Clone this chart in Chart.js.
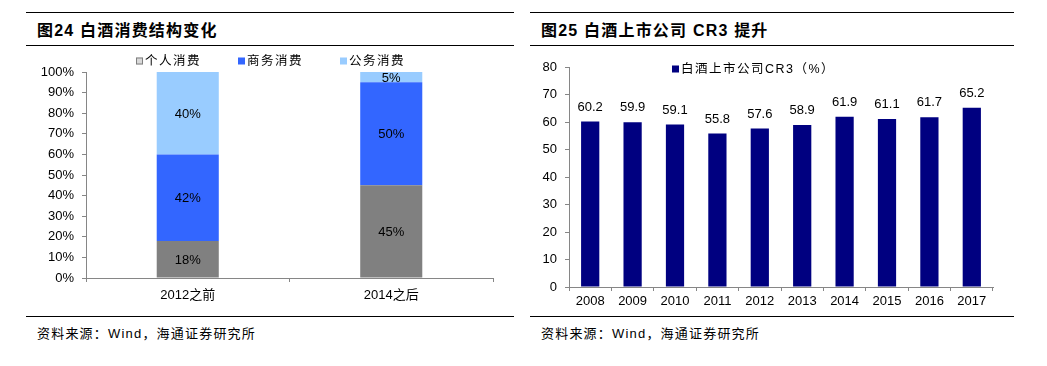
<!DOCTYPE html>
<html>
<head>
<meta charset="utf-8">
<script src="https://cdn.jsdelivr.net/npm/chart.js@4/dist/chart.umd.min.js"></script>
<style>
  body { margin: 0; background: #fff; width: 1047px; height: 366px; position: relative; overflow: hidden;
         font-family: "Liberation Sans", Arial, "Noto Sans CJK SC", sans-serif; }
  .rule { position: absolute; height: 0; border-top: 1.5px solid #000; }
  .title { position: absolute; top: 17px; font-size: 16px; font-weight: bold; color: #000; letter-spacing: 1.2px;
           font-family: "Liberation Sans", Arial, "Noto Sans CJK SC", sans-serif; }
  .source { position: absolute; top: 323px; font-size: 13px; color: #000; letter-spacing: 1.2px;
            font-family: "Liberation Sans", Arial, "Noto Sans CJK SC", sans-serif; }
  .box { position: absolute; top: 46px; height: 269px; }
</style>
</head>
<body>
<div class="rule" style="left:26px;width:488px;top:12px"></div>
<div class="rule" style="left:26px;width:488px;top:45px"></div>
<div class="rule" style="left:26px;width:488px;top:316px"></div>
<div class="title" style="left:37px">图24 白酒消费结构变化</div>
<div class="source" style="left:37px">资料来源：Wind，海通证券研究所</div>

<div class="rule" style="left:530px;width:484px;top:12px"></div>
<div class="rule" style="left:530px;width:484px;top:45px"></div>
<div class="rule" style="left:530px;width:484px;top:316px"></div>
<div class="title" style="left:541px">图25 白酒上市公司 CR3 提升</div>
<div class="source" style="left:541px">资料来源：Wind，海通证券研究所</div>

<div class="box" style="left:26px;width:488px"><canvas id="mixChart"></canvas></div>
<div class="box" style="left:530px;width:484px"><canvas id="cr3Chart"></canvas></div>

<script>
// 白酒消费结构 (%)
const mixCategories = ["2012之前", "2014之后"];
const personalShare = [18, 45];
const businessShare = [42, 50];
const officialShare = [40, 5];

// 白酒上市公司CR3 (%)
const cr3Years = ["2008", "2009", "2010", "2011", "2012", "2013", "2014", "2015", "2016", "2017"];
const cr3Values = [60.2, 59.9, 59.1, 55.8, 57.6, 58.9, 61.9, 61.1, 61.7, 65.2];

const mixTicks = [0, 10, 20, 30, 40, 50, 60, 70, 80, 90, 100];
const cr3Ticks = [0, 10, 20, 30, 40, 50, 60, 70, 80];

const latin = '"Liberation Sans", Arial, sans-serif';
const cjk = '"Liberation Sans", Arial, "Noto Sans CJK SC", sans-serif';
const axisGray = "#868686";

// 简单图例：自己画，位置可控
const simpleLegend = {
  id: "simpleLegend",
  afterDraw(chart, args, opts) {
    const ctx = chart.ctx;
    ctx.save();
    ctx.font = "12.5px " + cjk;
    ctx.letterSpacing = "1.5px";
    ctx.textBaseline = "middle";
    ctx.textAlign = "left";
    chart.data.datasets.forEach((ds, i) => {
      const x = opts.x + i * opts.step;
      const y = opts.y;
      const s = opts.box;
      ctx.fillStyle = ds.legendFill || ds.backgroundColor;
      ctx.fillRect(x, y - s / 2, s, s);
      if (ds.legendStroke) {
        ctx.strokeStyle = ds.legendStroke;
        ctx.lineWidth = 1;
        ctx.strokeRect(x + 0.5, y - s / 2 + 0.5, s - 1, s - 1);
      }
      ctx.fillStyle = "#000";
      ctx.fillText(ds.label, x + s + 2, y + 1);
    });
    ctx.restore();
  },
};

// 数据标签
const barLabels = {
  id: "barLabels",
  afterDatasetsDraw(chart, args, opts) {
    const ctx = chart.ctx;
    ctx.save();
    ctx.font = "13px " + latin;
    ctx.fillStyle = "#000";
    ctx.textAlign = "center";
    chart.data.datasets.forEach((ds, di) => {
      const meta = chart.getDatasetMeta(di);
      meta.data.forEach((bar, i) => {
        const v = ds.data[i];
        if (opts.mode === "inside") {
          ctx.textBaseline = "middle";
          ctx.fillText(v + "%", bar.x, (bar.y + bar.base) / 2 + 1);
        } else {
          ctx.textBaseline = "bottom";
          ctx.fillText(v.toFixed(1), bar.x, bar.y - 8);
        }
      });
    });
    ctx.restore();
  },
};

function axisX(height, padding) {
  return {
    grid: { display: true, offset: true, drawOnChartArea: false, drawTicks: true, tickLength: 4, color: axisGray },
    border: { display: true, color: axisGray },
    ticks: { color: "#000", font: { size: 13, family: cjk }, padding: padding, autoSkip: false, maxRotation: 0 },
    afterFit(scale) { scale.height = height; },
  };
}

function axisY(width, max, tickList, fmt) {
  return {
    min: 0,
    max: max,
    afterBuildTicks(scale) { scale.ticks = tickList.map((v) => ({ value: v })); },
    grid: { display: true, drawOnChartArea: false, drawTicks: true, tickLength: 4, color: axisGray },
    border: { display: true, color: axisGray },
    ticks: { color: "#000", font: { size: 13, family: latin }, padding: 8, callback: fmt },
    afterFit(scale) { scale.width = width; },
  };
}

new Chart(document.getElementById("mixChart"), {
  type: "bar",
  data: {
    labels: mixCategories,
    datasets: [
      { label: "个人消费", data: personalShare, backgroundColor: "#808080", legendFill: "#d9d9d9", legendStroke: "#7f7f7f" },
      { label: "商务消费", data: businessShare, backgroundColor: "#3366ff" },
      { label: "公务消费", data: officialShare, backgroundColor: "#99ccff" },
    ],
  },
  options: {
    responsive: true,
    maintainAspectRatio: false,
    animation: false,
    layout: { padding: { left: 0, right: 21, top: 26, bottom: 0 } },
    datasets: { bar: { categoryPercentage: 1, barPercentage: 0.305 } },
    scales: {
      x: { ...axisX(37, 6), stacked: true },
      y: { ...axisY(60, 100, mixTicks, (v) => v + "%"), stacked: true },
    },
    plugins: {
      legend: { display: false },
      tooltip: { enabled: false },
      simpleLegend: { x: 110, y: 15, step: 102, box: 7 },
      barLabels: { mode: "inside" },
    },
  },
  plugins: [simpleLegend, barLabels],
});

new Chart(document.getElementById("cr3Chart"), {
  type: "bar",
  data: {
    labels: cr3Years,
    datasets: [{ label: "白酒上市公司CR3（%）", data: cr3Values, backgroundColor: "#000080" }],
  },
  options: {
    responsive: true,
    maintainAspectRatio: false,
    animation: false,
    layout: { padding: { left: 0, right: 21, top: 21, bottom: 0 } },
    datasets: { bar: { categoryPercentage: 1, barPercentage: 0.43 } },
    scales: {
      x: axisX(28, 3),
      y: axisY(39, 80, cr3Ticks, (v) => v),
    },
    plugins: {
      legend: { display: false },
      tooltip: { enabled: false },
      simpleLegend: { x: 142, y: 23, step: 0, box: 7 },
      barLabels: { mode: "above" },
    },
  },
  plugins: [simpleLegend, barLabels],
});
</script>
</body>
</html>
